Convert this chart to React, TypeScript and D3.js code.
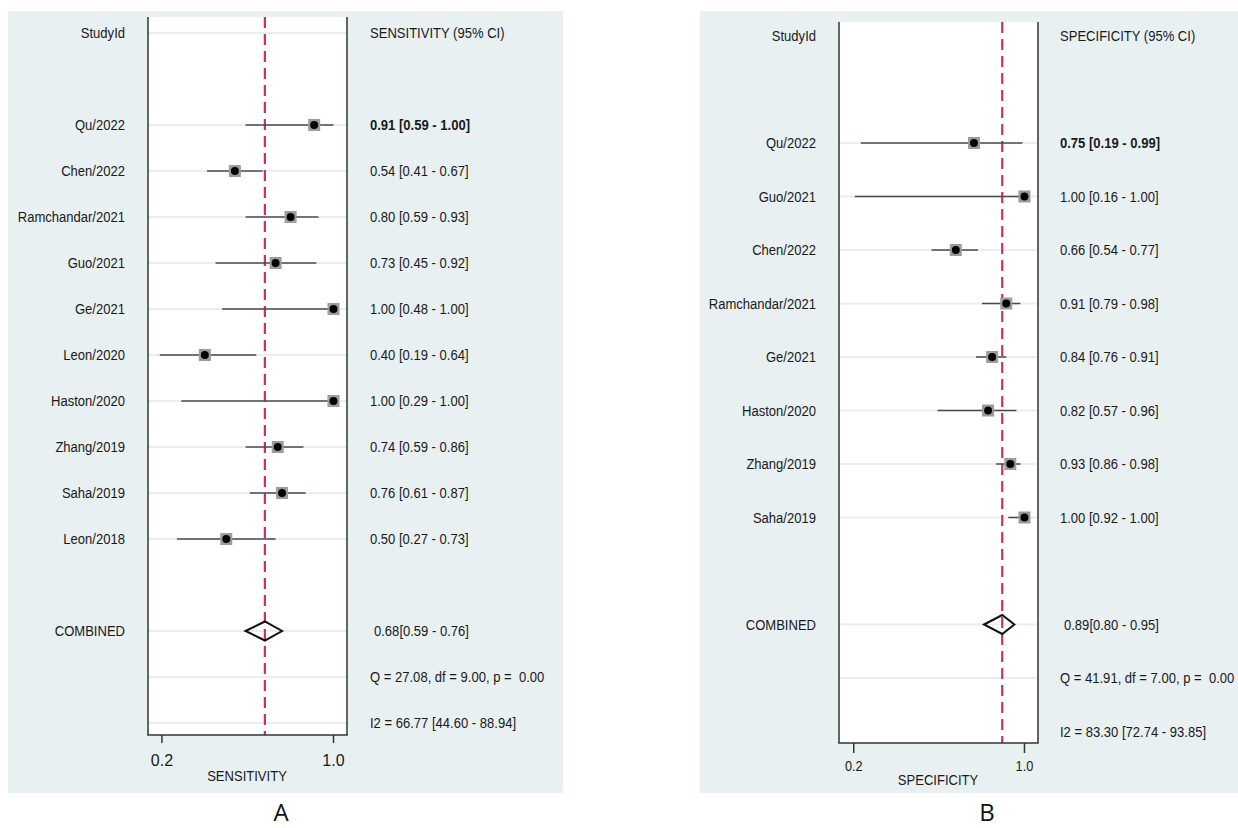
import React from 'react'
import * as d3 from 'd3'

// sensitivity panel (A)
const studiesA = ["Qu/2022", "Chen/2022", "Ramchandar/2021", "Guo/2021", "Ge/2021", "Leon/2020", "Haston/2020", "Zhang/2019", "Saha/2019", "Leon/2018"]
const sensEst = [0.91, 0.54, 0.80, 0.73, 1.00, 0.40, 1.00, 0.74, 0.76, 0.50]
const sensLo = [0.59, 0.41, 0.59, 0.45, 0.48, 0.19, 0.29, 0.59, 0.61, 0.27]
const sensHi = [1.00, 0.67, 0.93, 0.92, 1.00, 0.64, 1.00, 0.86, 0.87, 0.73]
const sensPooled = [0.68, 0.59, 0.76]
const sensStats = ["Q = 27.08, df = 9.00, p =  0.00", "I2 = 66.77 [44.60 - 88.94]"]
const sensTicks = [{v: 0.2, label: "0.2"}, {v: 1.0, label: "1.0"}]

// specificity panel (B)
const studiesB = ["Qu/2022", "Guo/2021", "Chen/2022", "Ramchandar/2021", "Ge/2021", "Haston/2020", "Zhang/2019", "Saha/2019"]
const specEst = [0.75, 1.00, 0.66, 0.91, 0.84, 0.82, 0.93, 1.00]
const specLo = [0.19, 0.16, 0.54, 0.79, 0.76, 0.57, 0.86, 0.92]
const specHi = [0.99, 1.00, 0.77, 0.98, 0.91, 0.96, 0.98, 1.00]
const specPooled = [0.89, 0.80, 0.95]
const specStats = ["Q = 41.91, df = 7.00, p =  0.00", "I2 = 83.30 [72.74 - 93.85]"]
const specTicks = [{v: 0.155, label: "0.2"}, {v: 1.0, label: "1.0"}]

const FONT = "'Liberation Sans', Arial, sans-serif"
const BG = "#e8f0f2"

const fmt = d3.format(".2f")

const Txt = ({x, y, anchor = "start", size = 14.5, sx = 0.9, bold = false, children}) => (
  <text transform={`translate(${x},${y}) scale(${sx},1)`} textAnchor={anchor} style={{whiteSpace: 'pre'}}
    fontFamily={FONT} fontSize={size} fontWeight={bold ? "bold" : "normal"} fill="#1a1a1a">
    {children}
  </text>
)

const Forest = ({cfg, studies, est, lo, hi, pooled, stats, ticks, header, axisTitle, letter}) => {
  const x = d3.scaleLinear().domain(cfg.domain).range([cfg.left, cfg.right])
  const y = d3.scaleLinear().domain([0, cfg.nRows - 1]).range(cfg.yRange)
  const first = 2
  const combRow = first + studies.length + 1
  const gridRows = [...(cfg.headerGrid ? [0] : []), ...studies.map((d, i) => first + i), combRow, combRow + 1, ...(cfg.lastGrid ? [combRow + 2] : [])]
  const sq = 12
  const dh = 9.5
  const [pe, pl, ph] = pooled
  const cy = y(combRow)

  return (
    <g>
      <rect x={cfg.bg[0]} y={cfg.bg[1]} width={cfg.bg[2]} height={cfg.bg[3]} fill={BG} />
      <rect x={cfg.left} y={cfg.top} width={cfg.right - cfg.left} height={cfg.bottom - cfg.top} fill="#fff" />
      {gridRows.map(r => (
        <line key={r} x1={cfg.left} x2={cfg.right} y1={y(r)} y2={y(r)} stroke="#e9eef1" strokeWidth={2} />
      ))}
      <line x1={x(pe)} x2={x(pe)} y1={cfg.top} y2={cfg.bottom} stroke="#c9325a" strokeWidth={2.2} strokeDasharray="11,6" />
      {studies.map((s, i) => {
        const yy = y(first + i)
        return (
          <g key={s}>
            <line x1={x(lo[i])} x2={x(hi[i])} y1={yy} y2={yy} stroke="#4a4a4a" strokeWidth={1.5} />
            <rect x={x(est[i]) - sq / 2} y={yy - sq / 2} width={sq} height={sq} fill="#9c9c9c" />
            <circle cx={x(est[i])} cy={yy} r={4} fill="#000" />
            <Txt x={cfg.labelX} y={yy + 5} anchor="end">{s}</Txt>
            <Txt x={cfg.valueX} y={yy + 5} bold={i === 0}>{`${fmt(est[i])} [${fmt(lo[i])} - ${fmt(hi[i])}]`}</Txt>
          </g>
        )
      })}
      <path d={`M${x(pl)},${cy}L${x(pe)},${cy - dh}L${x(ph)},${cy}L${x(pe)},${cy + dh}Z`} fill="none" stroke="#111" strokeWidth={2} />
      <Txt x={cfg.labelX} y={cy + 5} anchor="end">COMBINED</Txt>
      <Txt x={cfg.valueX + 4} y={cy + 5}>{`${fmt(pe)}[${fmt(pl)} - ${fmt(ph)}]`}</Txt>
      {stats.map((t, i) => (
        <Txt key={t} x={cfg.valueX} y={y(combRow + 1 + i) + 5}>{t}</Txt>
      ))}
      <Txt x={cfg.labelX} y={y(0) + 5} anchor="end">StudyId</Txt>
      <Txt x={cfg.valueX} y={y(0) + 5}>{header}</Txt>
      <line x1={cfg.left} x2={cfg.left} y1={cfg.top} y2={cfg.bottom} stroke="#333" strokeWidth={1.5} />
      <line x1={cfg.right} x2={cfg.right} y1={cfg.top} y2={cfg.bottom} stroke="#333" strokeWidth={1.5} />
      <line x1={cfg.left - 0.75} x2={cfg.right + 0.75} y1={cfg.bottom} y2={cfg.bottom} stroke="#333" strokeWidth={1.5} />
      {ticks.map(t => (
        <g key={t.label}>
          <line x1={x(t.v)} x2={x(t.v)} y1={cfg.bottom} y2={cfg.bottom + cfg.tickLen} stroke="#333" strokeWidth={1.5} />
          <Txt x={x(t.v)} y={cfg.tickY} anchor="middle" size={cfg.tickSize} sx={cfg.tickSx}>{t.label}</Txt>
        </g>
      ))}
      <Txt x={cfg.titleX} y={cfg.titleY} anchor="middle">{axisTitle}</Txt>
      <text x={cfg.letterX} y={821} textAnchor="middle" fontFamily="'Open Sans', sans-serif" fontSize={24} fill="#111">{letter}</text>
    </g>
  )
}

const cfgA = {
  bg: [8, 11, 555, 782], left: 148, right: 347, top: 17, bottom: 735,
  domain: [0.135, 1.063], nRows: 16, yRange: [33, 723],
  labelX: 125, valueX: 370, tickLen: 8, tickY: 766, tickSize: 16, tickSx: 1,
  titleX: 247, titleY: 781, letterX: 281, headerGrid: true, lastGrid: true
}

const cfgB = {
  bg: [700, 11, 538, 782], left: 839, right: 1038, top: 22, bottom: 743,
  domain: [0.082, 1.067], nRows: 14, yRange: [36, 731.5],
  labelX: 816, valueX: 1060, tickLen: 10, tickY: 771, tickSize: 14.5, tickSx: 0.88,
  titleX: 938, titleY: 785, letterX: 987, headerGrid: false, lastGrid: false
}

export default function App() {
  return (
    <div style={{position: 'absolute', left: 0, top: 0}}>
      <svg width={1238} height={828} style={{display: 'block', background: '#fff'}}>
        <Forest cfg={cfgA} studies={studiesA} est={sensEst} lo={sensLo} hi={sensHi} pooled={sensPooled}
          stats={sensStats} ticks={sensTicks} header="SENSITIVITY (95% CI)" axisTitle="SENSITIVITY" letter="A" />
        <Forest cfg={cfgB} studies={studiesB} est={specEst} lo={specLo} hi={specHi} pooled={specPooled}
          stats={specStats} ticks={specTicks} header="SPECIFICITY (95% CI)" axisTitle="SPECIFICITY" letter="B" />
      </svg>
    </div>
  )
}
